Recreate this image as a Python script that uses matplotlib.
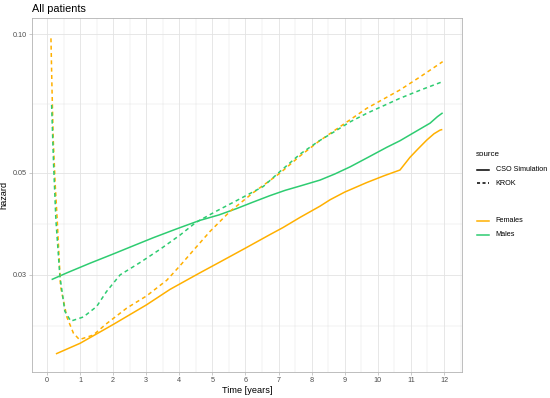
import matplotlib
matplotlib.use("Agg")
import matplotlib.pyplot as plt
from matplotlib.lines import Line2D
import numpy as np

plt.rcParams['font.family'] = ['Liberation Sans', 'DejaVu Sans']

# ---- data ----
fem_sim_t = [0.27, 1.0, 2.0, 3.0, 3.72, 4.62, 5.23, 6.0, 6.74, 7.13, 7.65, 8.25, 8.56, 9.0, 9.66, 10.2, 10.67, 10.97, 11.2, 11.48, 11.7, 11.88, 11.95]
fem_sim_v = [0.0202, 0.0213, 0.0234, 0.0258, 0.0279, 0.0303, 0.0320, 0.0343, 0.0367, 0.0380, 0.0400, 0.0423, 0.0437, 0.0454, 0.0476, 0.0493, 0.0507, 0.0540, 0.0562, 0.0589, 0.0608, 0.0619, 0.0621]

male_sim_t = [0.14, 0.6, 1.3, 2.0, 2.61, 3.2, 3.72, 4.02, 4.62, 5.2, 5.73, 6.2, 6.74, 7.2, 7.65, 8.25, 8.7, 9.16, 9.7, 10.27, 10.67, 11.1, 11.58, 11.8, 11.96]
male_sim_v = [0.0293, 0.0303, 0.0318, 0.0333, 0.0347, 0.0361, 0.0373, 0.0380, 0.0394, 0.0405, 0.0418, 0.0431, 0.0446, 0.0458, 0.0468, 0.0482, 0.0497, 0.0515, 0.0540, 0.0568, 0.0587, 0.0612, 0.0641, 0.0662, 0.0675]

fem_krok_t = [0.12, 0.15, 0.19, 0.25, 0.31, 0.41, 0.6, 0.8, 0.98, 1.4, 1.8, 2.41, 3.01, 3.62, 4.02, 4.5, 4.93, 5.53, 6.24, 7.04, 7.65, 8.2, 8.86, 9.66, 10.67, 11.3, 11.96]
fem_krok_v = [0.098, 0.0769, 0.0589, 0.047, 0.0394, 0.0283, 0.0243, 0.0224, 0.0217, 0.0222, 0.0235, 0.0254, 0.0270, 0.0292, 0.0314, 0.0344, 0.0373, 0.0412, 0.0453, 0.0499, 0.0544, 0.0584, 0.0630, 0.0690, 0.0757, 0.0810, 0.0872]

male_krok_t = [0.14, 0.2, 0.27, 0.39, 0.54, 0.72, 1.1, 1.5, 1.8, 2.21, 2.81, 3.42, 4.02, 4.5, 5.1, 5.73, 6.54, 7.04, 7.65, 8.2, 8.65, 9.16, 9.66, 10.67, 11.3, 11.96]
male_krok_v = [0.0702, 0.052, 0.0394, 0.0298, 0.0250, 0.0238, 0.0243, 0.0256, 0.0276, 0.0300, 0.0319, 0.0341, 0.0366, 0.0390, 0.0412, 0.0435, 0.0467, 0.0503, 0.0549, 0.0585, 0.0612, 0.0645, 0.0673, 0.0726, 0.0757, 0.0789]

x_ticks = list(range(0, 13))
y_ticks = [0.03, 0.05, 0.10]
y_tick_labels = ["0.03", "0.05", "0.10"]

orange = "#FFB000"
green = "#2ECC71"

W, H = 550, 398
fig = plt.figure(figsize=(W / 100, H / 100), dpi=100)
L, R, T, B = 32, 462, 18, 372
ax = fig.add_axes([L / W, 1 - B / H, (R - L) / W, (B - T) / H])

ax.set_yscale('log')
ax.set_xlim(-0.453, 12.545)
ax.set_ylim(0.01845, 0.1085)

# grid
grid_major = "#E3E3E3"
for x in x_ticks:
    ax.axvline(x, color=grid_major, lw=0.6, zorder=0)
for x in np.arange(-0.5, 12.6, 1.0):
    ax.axvline(x, color=grid_major, lw=0.35, zorder=0)
for y in y_ticks:
    ax.axhline(y, color=grid_major, lw=0.6, zorder=0)
ly = np.log10(y_ticks)
minor_y = [10 ** ((ly[0] + ly[1]) / 2), 10 ** ((ly[1] + ly[2]) / 2), 10 ** (ly[0] - (ly[1] - ly[0]) / 2)]
for y in minor_y:
    ax.axhline(y, color=grid_major, lw=0.35, zorder=0)

lw = 1.1
dash = (0, (2.6, 2.2))
ax.plot(fem_sim_t, fem_sim_v, color=orange, lw=lw, solid_capstyle='butt', solid_joinstyle='round', zorder=3)
ax.plot(male_sim_t, male_sim_v, color=green, lw=lw, solid_capstyle='butt', solid_joinstyle='round', zorder=3)
ax.plot(fem_krok_t, fem_krok_v, color=orange, lw=lw, linestyle=dash, zorder=3)
ax.plot(male_krok_t, male_krok_v, color=green, lw=lw, linestyle=dash, zorder=3)

ax.set_xticks(x_ticks)
ax.set_xticklabels([str(x) for x in x_ticks])
ax.set_yticks(y_ticks)
ax.set_yticklabels(y_tick_labels)
ax.yaxis.set_minor_locator(matplotlib.ticker.NullLocator())
ax.tick_params(axis='both', which='major', labelsize=5.2, colors="#B3B3B3",
               labelcolor="#4D4D4D", length=2.2, width=0.5, pad=1.5)

for s in ax.spines.values():
    s.set_color("#B3B3B3")
    s.set_linewidth(0.6)

ax.set_xlabel("Time [years]", fontsize=6.6, labelpad=1.5)
ax.set_ylabel("hazard", fontsize=6.6, labelpad=3)

fig.text(L / W, 1 - 9 / H, "All patients", fontsize=7.8, ha='left', va='center')

# legend (manual)
def ly_(py):
    return 1 - py / H

fig.text(476 / W, ly_(154), "source", fontsize=5.8, ha='left', va='center')
x0, x1, xt = 477 / W, 489 / W, 495.5 / W
entries_src = [("CSO Simulation", '-', 169.5), ("KROK", (0, (2.0, 1.6)), 183)]
for label, ls, py in entries_src:
    fig.add_artist(Line2D([x0, x1], [ly_(py), ly_(py)], color='black', lw=1.1, linestyle=ls, transform=fig.transFigure))
    fig.text(xt, ly_(py), label, fontsize=5.2, ha='left', va='center')
entries_col = [("Females", orange, 220.5), ("Males", green, 235)]
for label, c, py in entries_col:
    fig.add_artist(Line2D([x0, x1], [ly_(py), ly_(py)], color=c, lw=1.1, transform=fig.transFigure))
    fig.text(xt, ly_(py), label, fontsize=5.2, ha='left', va='center')

fig.savefig("out.png", dpi=100)
